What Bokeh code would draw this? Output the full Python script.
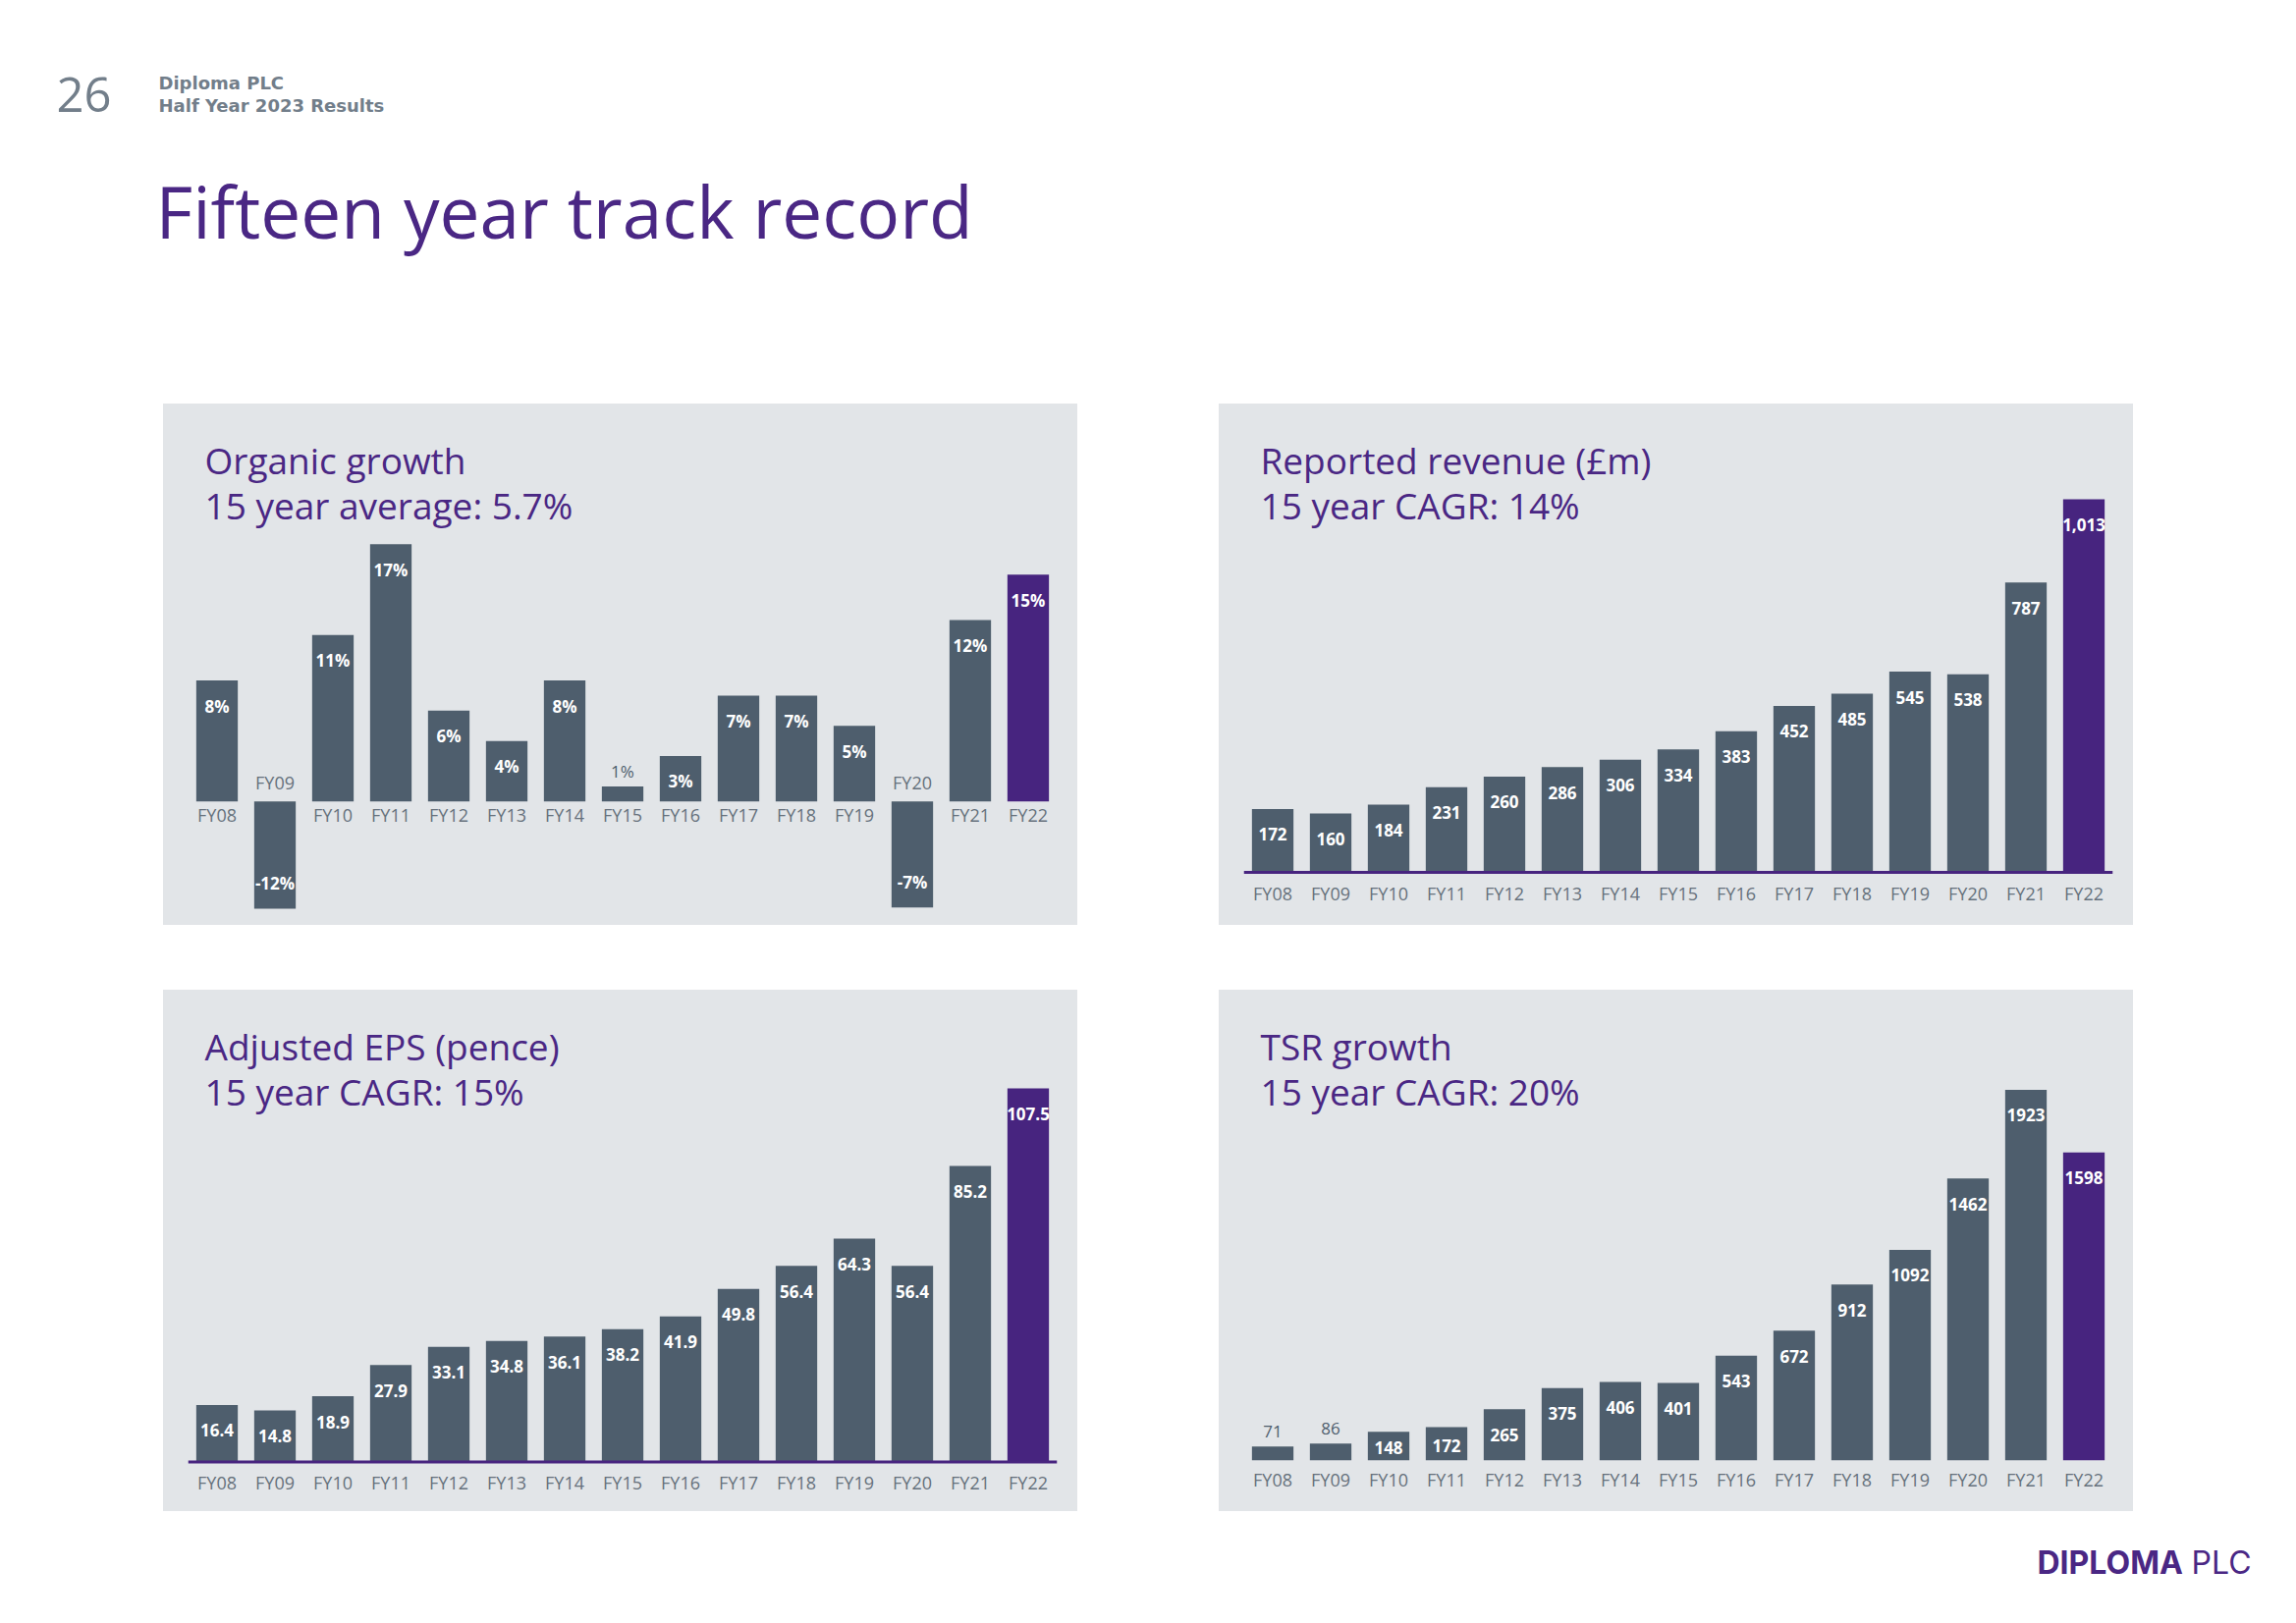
from bokeh.plotting import figure
from bokeh.models import ColumnDataSource, Label, Spacer, FactorRange, Range1d, Span
from bokeh.layouts import column, row
from bokeh.embed import file_html
from bokeh.resources import INLINE
from bokeh.core.properties import value, field

# ---------------- data ----------------
years = ["FY08", "FY09", "FY10", "FY11", "FY12", "FY13", "FY14", "FY15",
         "FY16", "FY17", "FY18", "FY19", "FY20", "FY21", "FY22"]
organic_growth = [8, -12, 11, 17, 6, 4, 8, 1, 3, 7, 7, 5, -7, 12, 15]
reported_revenue = [172, 160, 184, 231, 260, 286, 306, 334, 383, 452, 485, 545, 538, 787, 1013]
adjusted_eps = [16.4, 14.8, 18.9, 27.9, 33.1, 34.8, 36.1, 38.2, 41.9, 49.8, 56.4, 64.3, 56.4, 85.2, 107.5]
tsr_growth = [71, 86, 148, 172, 265, 375, 406, 401, 543, 672, 912, 1092, 1462, 1923, 1598]

page_number = "26"
company = "Diploma PLC"
subtitle = "Half Year 2023 Results"
slide_title = "Fifteen year track record"

# ---------------- styles ----------------
FONT = "Open Sans"
BG = "#e2e5e8"
BAR = "#4e5e6d"
HIGHLIGHT = "#47247f"
TITLE_PURPLE = "#4a2784"
CAT_GREY = "#66717c"
HEAD_GREY = "#727e8a"

# vertical shift (fraction of font size) between Bokeh's label anchor and the baseline
SHIFT = {"Open Sans": 0.388, "DejaVu Sans": 0.346, "Inter": 0.36}

PW, PH = 931, 531          # panel size
FL, FR, FT, FB = 25, 21, 40, 17    # frame borders (left, right, top, bottom)


def make_panel(values, fmt, line1, line2, baseline_rel, ppu, baseline_line, cat_gap):
    fb_rel = PH - FB
    frame_h = PH - FT - FB
    ylow = -(fb_rel - baseline_rel) / ppu
    y_end = ylow + frame_h / ppu

    p = figure(x_range=FactorRange(factors=years), y_range=Range1d(ylow, y_end),
               width=PW, height=PH, output_backend="svg", toolbar_location=None,
               min_border_left=FL, min_border_right=FR, min_border_top=FT, min_border_bottom=FB,
               background_fill_color=None, border_fill_color=None, outline_line_color=None,
               y_axis_location=None, x_axis_location=None,
               styles={"background-color": BG})
    p.grid.grid_line_color = None

    colors = [HIGHLIGHT if i == len(years) - 1 else BAR for i in range(len(years))]
    bar_src = ColumnDataSource(dict(x=years, top=values, color=colors))
    p.vbar(x="x", top="top", bottom=0, width=0.717, fill_color="color",
           line_color=None, source=bar_src)

    if baseline_line:
        p.add_layout(Span(location=0, dimension="width", line_color=HIGHLIGHT, line_width=3))

    ys, offs, cols, styles, texts = [], [], [], [], []
    for v in values:
        hpx = abs(v) * ppu
        texts.append(fmt(v))
        if v >= 0:
            ys.append(v)
            if hpx < 25:
                offs.append(-15)
                cols.append(BAR)
                styles.append("normal")
            else:
                offs.append(min(26, hpx / 2 + 2))
                cols.append("white")
                styles.append("bold")
        else:
            ys.append(max(v, ylow))
            offs.append(-26)
            cols.append("white")
            styles.append("bold")
    lab_src = ColumnDataSource(dict(x=years, y=ys, off=offs, col=cols, fs=styles, t=texts))
    p.text(x="x", y="y", text="t", y_offset="off", text_color="col",
           text_font=value(FONT), text_font_style=field("fs"), text_font_size="17px",
           text_align="center", text_baseline="middle", source=lab_src)

    cat_off = [cat_gap if v >= 0 else -19 for v in values]
    cat_src = ColumnDataSource(dict(x=years, y=[0] * len(years), off=cat_off, t=years))
    p.text(x="x", y="y", text="t", y_offset="off", text_color=CAT_GREY,
           text_font=value(FONT), text_font_size="18px",
           text_align="center", text_baseline="middle", source=cat_src)

    size = 37
    for txt, base in ((line1, 71.6), (line2, 117.4)):
        p.add_layout(Label(x=17, y=fb_rel - base + SHIFT[FONT] * size,
                           x_units="screen", y_units="screen",
                           text=txt, text_font=FONT, text_font_size=f"{size}px",
                           text_color=TITLE_PURPLE, text_baseline="alphabetic",
                           text_align="left"))
    return p


p1 = make_panel(organic_growth, lambda v: f"{v}%", "Organic growth", "15 year average: 5.7%",
                404.8, 15.41, False, 14)
p2 = make_panel(reported_revenue, lambda v: f"{v:,}", "Reported revenue (£m)", "15 year CAGR: 14%",
                477.0, 0.3751, True, 21)
p3 = make_panel(adjusted_eps, lambda v: f"{v:.1f}", "Adjusted EPS (pence)", "15 year CAGR: 15%",
                480.5, 3.54, True, 21)
p4 = make_panel(tsr_growth, lambda v: f"{v}", "TSR growth", "15 year CAGR: 20%",
                478.7, 0.1962, False, 20)


def plain_fig(w, h):
    f = figure(width=w, height=h, output_backend="svg", toolbar_location=None,
               x_range=Range1d(0, w), y_range=Range1d(0, h),
               min_border=0, x_axis_location=None, y_axis_location=None,
               outline_line_color=None, background_fill_color="white", border_fill_color="white")
    f.grid.grid_line_color = None
    return f


def add_text(f, h, x, baseline_y, text, font, size, color, style="normal"):
    f.add_layout(Label(x=x, y=h - baseline_y + SHIFT[font] * size,
                       x_units="screen", y_units="screen", text=text,
                       text_font=font, text_font_size=f"{size}px", text_font_style=style,
                       text_color=color, text_baseline="alphabetic", text_align="left"))


# ---------------- header ----------------
HW, HH = 2330, 411
header = plain_fig(HW, HH)
add_text(header, HH, 57, 115, page_number, FONT, 49, HEAD_GREY)
add_text(header, HH, 161, 90, company, "DejaVu Sans", 18, HEAD_GREY, "bold")
add_text(header, HH, 161, 113.3, subtitle, "DejaVu Sans", 18, HEAD_GREY, "bold")
add_text(header, HH, 158, 242.7, slide_title, FONT, 73, TITLE_PURPLE)

# ---------------- footer ----------------
FW, FH = 2330, 1653 - 1539 - 2
footer = plain_fig(FW, FH)
add_text(footer, FH, 2074, 1602.7 - 1539, "DIPLOMA", "Inter", 32, TITLE_PURPLE, "bold")
add_text(footer, FH, 2231, 1602.7 - 1539, "PLC", "Inter", 32, TITLE_PURPLE)

layout = column(
    header,
    row(Spacer(width=166, height=PH), p1, Spacer(width=144, height=PH), p2),
    Spacer(width=HW, height=66),
    row(Spacer(width=166, height=PH), p3, Spacer(width=144, height=PH), p4),
    footer,
)

open("out.html", "w").write(file_html(layout, INLINE))
